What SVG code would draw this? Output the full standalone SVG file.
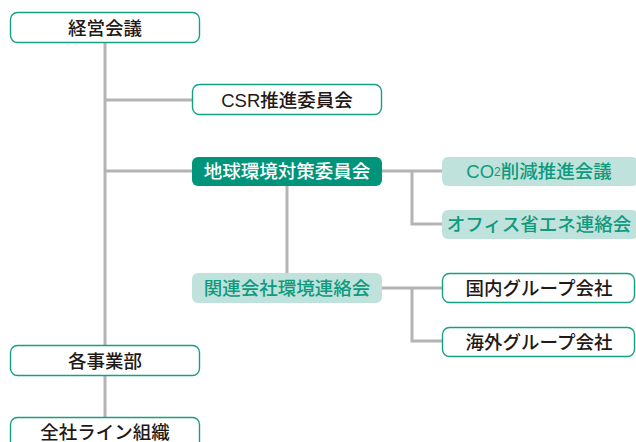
<svg xmlns="http://www.w3.org/2000/svg" width="636" height="442" viewBox="0 0 636 442">
<style>
.w{fill:#fff;stroke:#14a085;stroke-width:1.4}
.d{fill:#00957a}
.l{fill:#bfe3dc}
.t{font-family:"Liberation Sans","Noto Sans CJK JP",sans-serif;font-size:18.5px;font-weight:500;text-anchor:middle;dominant-baseline:central;fill:#231815}
.tw{fill:#fff}
.tg{fill:#0f9a7e}
.c{fill:none;stroke:#b4b4b4;stroke-width:3}
</style>
<rect width="636" height="442" fill="#fff"/>
<g id="connectors">
<path class="c" d="M105 43V346M105 376V418M105 100H192M105 171H192M382 171H442M412 171V224H442M287 186V273M382 288H442M412 288V341H442"/>
</g>
<g id="keiei"><rect class="w" x="10.5" y="12.5" width="189" height="30" rx="7"/><text class="t" x="105" y="28">経営会議</text></g>
<g id="csr"><rect class="w" x="192.5" y="84.5" width="189" height="30" rx="7"/><text class="t" x="287" y="100">CSR推進委員会</text></g>
<g id="chikyu"><rect class="d" x="192" y="157" width="190" height="29" rx="6"/><text class="t tw" x="287" y="171.5">地球環境対策委員会</text></g>
<g id="co2"><rect class="l" x="442" y="157" width="196" height="29" rx="6"/><text class="t tg" x="539" y="171.5">CO<tspan font-size="12">2</tspan>削減推進会議</text></g>
<g id="office"><rect class="l" x="442" y="210" width="196" height="29" rx="6"/><text class="t tg" x="539" y="224.5">オフィス省エネ連絡会</text></g>
<g id="kanren"><rect class="l" x="192" y="273" width="190" height="30" rx="6"/><text class="t tg" x="287" y="288">関連会社環境連絡会</text></g>
<g id="kokunai"><rect class="w" x="442.5" y="273.5" width="192" height="29" rx="7"/><text class="t" x="539" y="288">国内グループ会社</text></g>
<g id="kaigai"><rect class="w" x="442.5" y="327.5" width="192" height="29" rx="7"/><text class="t" x="539" y="342">海外グループ会社</text></g>
<g id="jigyobu"><rect class="w" x="10.5" y="345.5" width="189" height="30" rx="7"/><text class="t" x="105" y="361">各事業部</text></g>
<g id="zensha"><rect class="w" x="10.5" y="417.5" width="189" height="32" rx="7"/><text class="t" x="105" y="432">全社ライン組織</text></g>
</svg>
